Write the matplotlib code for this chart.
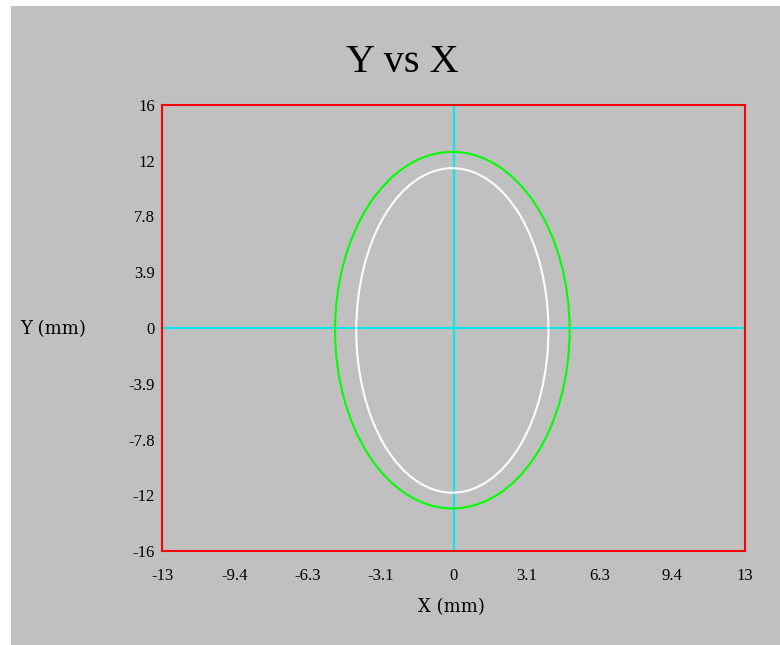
import matplotlib
matplotlib.use("Agg")
import matplotlib.pyplot as plt
from matplotlib.patches import Ellipse, Rectangle

# ---- data ----
x_limits = [-12.5, 12.5]
y_limits = [-15.6, 15.6]
x_ticks = [-12.5, -9.375, -6.25, -3.125, 0, 3.125, 6.25, 9.375, 12.5]
x_tick_labels = ["-13", "-9.4", "-6.3", "-3.1", "0", "3.1", "6.3", "9.4", "13"]
y_ticks = [-15.6, -11.7, -7.8, -3.9, 0, 3.9, 7.8, 11.7, 15.6]
y_tick_labels = ["-16", "-12", "-7.8", "-3.9", "0", "3.9", "7.8", "12", "16"]

# ellipses: centre x, centre y, full width, full height
outer_center = (-0.05, -0.15)
outer_size = (10.06, 24.94)
inner_center = (-0.05, -0.17)
inner_size = (8.24, 22.70)

title = "Y vs X"
x_label = "X (mm)"
y_label = "Y (mm)"

W, H = 780, 645
fig = plt.figure(figsize=(W / 100, H / 100), dpi=100)
fig.patch.set_facecolor("white")
gray = "#c0c0c0"
fig.patches.append(Rectangle((11 / W, 0), 1 - 11 / W, 1 - 6 / H,
                             transform=fig.transFigure, facecolor=gray,
                             edgecolor="none", zorder=-10))

ax = fig.add_axes([162 / W, 1 - 551 / H, (745 - 162) / W, (551 - 105) / H])
ax.set_facecolor(gray)
ax.set_xlim(x_limits)
ax.set_ylim(y_limits)

serif = ["Liberation Serif", "DejaVu Serif"]
wide_serif = ["DejaVu Serif", "Liberation Serif"]

ax.axhline(0, color="#00e8f0", lw=1.5, zorder=1)
ax.axvline(0, color="#00e8f0", lw=1.5, zorder=1)

ax.add_patch(Ellipse(outer_center, outer_size[0], outer_size[1],
                     fill=False, edgecolor="#00ff00", lw=1.5, zorder=2))
ax.add_patch(Ellipse(inner_center, inner_size[0], inner_size[1],
                     fill=False, edgecolor="white", lw=1.5, zorder=2))

for s in ax.spines.values():
    s.set_color("#ff0000")
    s.set_linewidth(1.5)
    s.set_zorder(5)

ax.set_xticks(x_ticks)
ax.set_xticklabels(x_tick_labels, family=serif, fontsize=12)
ax.set_yticks(y_ticks)
ax.set_yticklabels(y_tick_labels, family=serif, fontsize=12)
ax.tick_params(axis="both", length=0)
ax.tick_params(axis="x", pad=12)
ax.tick_params(axis="y", pad=5)

fig.text(451 / W, 1 - 607 / H, x_label, ha="center", va="center",
         family=wide_serif, fontsize=13)
fig.text(20 / W, 1 - 329 / H, y_label, ha="left", va="center",
         family=wide_serif, fontsize=13)
fig.text(402 / W, 1 - 63 / H, title, ha="center", va="center",
         family=serif, fontsize=29)

fig.savefig("out.png", dpi=100, facecolor=fig.get_facecolor())
